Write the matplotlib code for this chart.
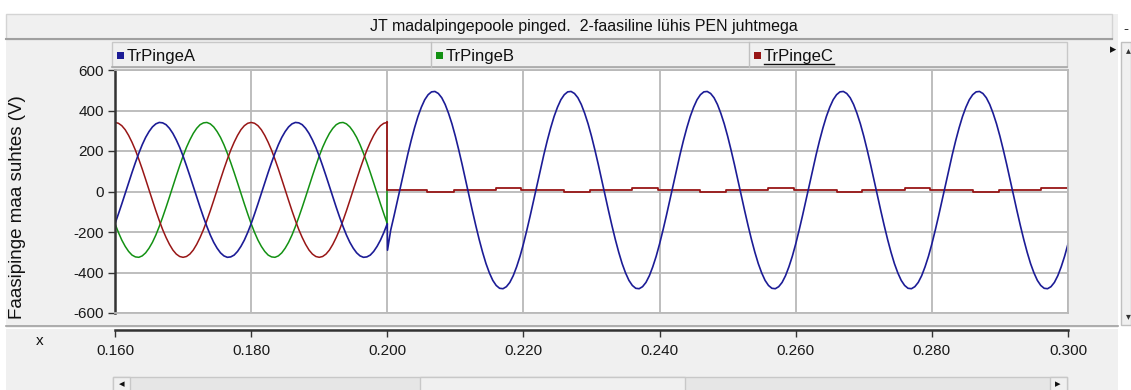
import numpy as np
import matplotlib
matplotlib.use('Agg')
import matplotlib.pyplot as plt
from matplotlib.patches import Rectangle

plt.rcParams['font.family'] = ['Liberation Sans', 'DejaVu Sans']
plt.rcParams['axes.unicode_minus'] = False

# --- data (V), 0.5 ms samples before the fault ---
t_pre = np.linspace(0.160, 0.200, 81)

blue_pre = [-159, -111, -61, -9, 43, 94, 143, 189, 231, 267, 296, 319, 334, 341, 339, 330, 312, 287, 255, 218,
            175, 127, 77, 25, -27, -78, -127, -173, -215, -251, -280, -303, -318, -325, -323, -314, -296, -271, -240, -202,
            -159, -111, -61, -9, 43, 94, 143, 189, 231, 267, 296, 319, 334, 341, 339, 330, 312, 287, 255, 218,
            175, 127, 77, 25, -27, -78, -127, -173, -215, -251, -280, -303, -318, -325, -323, -314, -296, -271, -240, -202,
            -159]

green_pre = [-159, -202, -240, -271, -296, -314, -323, -325, -318, -303, -280, -251, -215, -173, -127, -78, -27, 25, 77, 127,
             175, 218, 255, 287, 312, 330, 339, 341, 334, 319, 296, 267, 231, 189, 143, 94, 43, -9, -61, -111,
             -159, -202, -240, -271, -296, -314, -323, -325, -318, -303, -280, -251, -215, -173, -127, -78, -27, 25, 77, 127,
             175, 218, 255, 287, 312, 330, 339, 341, 334, 319, 296, 267, 231, 189, 143, 94, 43, -9, -61, -111,
             -159]

red_pre = [341, 337, 325, 305, 277, 243, 204, 159, 111, 60, 8, -44, -95, -143, -188, -227, -261, -289, -309, -321,
           -325, -321, -309, -289, -261, -227, -188, -143, -95, -44, 8, 60, 111, 159, 204, 243, 277, 305, 325, 337,
           341, 337, 325, 305, 277, 243, 204, 159, 111, 60, 8, -44, -95, -143, -188, -227, -261, -289, -309, -321,
           -325, -321, -309, -289, -261, -227, -188, -143, -95, -44, 8, 60, 111, 159, 204, 243, 277, 305, 325, 337,
           341]

# fault spike on phase A
spike_t = [0.20003]
spike_v = [-290]

# phase A after the fault, 0.2005 .. 0.3000 every 0.5 ms
t_post = np.linspace(0.2005, 0.300, 200)
blue_post = [-191, -119, -44, 33, 108, 182, 251, 314, 370, 416, 453, 478, 492, 494, 484, 463, 430, 386, 334, 273,
             205, 133, 58, -19, -95, -168, -237, -300, -356, -402, -439, -464, -478, -480, -470, -449, -416, -372, -320,
             -259, -191, -119, -44, 33, 108, 182, 251, 314, 370, 416, 453, 478, 492, 494, 484, 463, 430, 386, 334, 273,
             205, 133, 58, -19, -95, -168, -237, -300, -356, -402, -439, -464, -478, -480, -470, -449, -416, -372, -320,
             -259, -191, -119, -44, 33, 108, 182, 251, 314, 370, 416, 453, 478, 492, 494, 484, 463, 430, 386, 334, 273,
             205, 133, 58, -19, -95, -168, -237, -300, -356, -402, -439, -464, -478, -480, -470, -449, -416, -372, -320,
             -259, -191, -119, -44, 33, 108, 182, 251, 314, 370, 416, 453, 478, 492, 494, 484, 463, 430, 386, 334, 273,
             205, 133, 58, -19, -95, -168, -237, -300, -356, -402, -439, -464, -478, -480, -470, -449, -416, -372, -320,
             -259, -191, -119, -44, 33, 108, 182, 251, 314, 370, 416, 453, 478, 492, 494, 484, 463, 430, 386, 334, 273,
             205, 133, 58, -19, -95, -168, -237, -300, -356, -402, -439, -464, -478, -480, -470, -449, -416, -372, -320,
             -259]

# phase B jumps to ~0 at the fault (then hidden under phase C)
green_jump_t = [0.2000]
green_jump_v = [7]
# phase C after the fault (stepwise, near zero)
red_step_t = [0.2000, 0.2059, 0.2098, 0.2160, 0.2197, 0.2260, 0.2298, 0.2360, 0.2397, 0.2460, 0.2498,
              0.2560, 0.2597, 0.2660, 0.2698, 0.2760, 0.2798, 0.2860, 0.2898, 0.2960, 0.3000]
red_step_v = [7, -1, 7, 18, 7, -1, 7, 18, 7, -1, 7, 18, 7, -1, 7, 18, 7, -1, 7, 18, 18]

names = ['TrPingeA', 'TrPingeB', 'TrPingeC']
colors = ['#1c1c96', '#139113', '#981616']
x_ticks = [0.160, 0.180, 0.200, 0.220, 0.240, 0.260, 0.280, 0.300]
y_ticks = [-600, -400, -200, 0, 200, 400, 600]
title = 'JT madalpingepoole pinged.  2-faasiline lühis PEN juhtmega'
ylabel = 'Faasipinge maa suhtes (V)'

W, H = 1131, 390
def fr(x0, y0, x1, y1):
    return [x0 / W, 1 - y1 / H, (x1 - x0) / W, (y1 - y0) / H]

fig = plt.figure(figsize=(W / 100, H / 100), dpi=100)

# window chrome in pixel coordinates
bg = fig.add_axes([0, 0, 1, 1])
bg.set_xlim(0, W)
bg.set_ylim(H, 0)
bg.axis('off')
bg.add_patch(Rectangle((0, 0), W, H, facecolor='white', edgecolor='none'))
bg.add_patch(Rectangle((6, 14), 1112, H - 14, facecolor='#f0f0f0', edgecolor='none'))
# title bar
bg.add_patch(Rectangle((6, 14), 1106, 25, facecolor='#f0f0f0', edgecolor='#d4d4d4', lw=1))
bg.plot([6, 1112], [39, 39], color='#a0a0a0', lw=1.5)
bg.text(584, 26, title, ha='center', va='center', fontsize=11.5, color='#111111')
bg.text(1126, 29, '-', ha='center', va='center', fontsize=11, color='#333333')
# legend bar
bg.add_patch(Rectangle((112, 42), 955, 25, facecolor='#f0f0f0', edgecolor='#c8c8c8', lw=1))
bg.plot([112, 1067], [67, 67], color='#a8a8a8', lw=1.2)
for xd in [431, 749]:
    bg.plot([xd, xd], [42, 67], color='#c0c0c0', lw=1)
for xs, name, c in zip([117, 436, 754], names, colors):
    bg.add_patch(Rectangle((xs, 52), 7, 7, facecolor=c, edgecolor='none'))
    bg.text(xs + 10, 56, name, ha='left', va='center', fontsize=12, color='#111111')
bg.plot([764, 834], [64, 64], color='#111111', lw=1)
bg.text(1113, 50, '\u25b8', family='DejaVu Sans', ha='center', va='center', fontsize=9, color='#111111')
# right scrollbar
bg.add_patch(Rectangle((1121, 42), 10, 283, facecolor='#f0f0f0', edgecolor='#c0c0c0', lw=1))
bg.text(1128, 50, '\u25b4', family='DejaVu Sans', ha='center', va='center', fontsize=7, color='#333333')
bg.text(1128, 316, '\u25be', family='DejaVu Sans', ha='center', va='center', fontsize=7, color='#333333')
# separator under the plot
bg.plot([6, 1118], [326, 326], color='#a0a0a0', lw=1.2)
bg.plot([6, 1118], [327.5, 327.5], color='white', lw=0.8)
# bottom scrollbar
bg.add_patch(Rectangle((113, 377), 954, 14, facecolor='#e6e6e6', edgecolor='#c8c8c8', lw=1))
bg.add_patch(Rectangle((420, 377), 265, 14, facecolor='#f0f0f0', edgecolor='#c8c8c8', lw=1))
bg.add_patch(Rectangle((113, 377), 17, 14, facecolor='#f0f0f0', edgecolor='#c8c8c8', lw=1))
bg.add_patch(Rectangle((1050, 377), 17, 14, facecolor='#f0f0f0', edgecolor='#c8c8c8', lw=1))
bg.text(122, 384, '\u25c2', family='DejaVu Sans', ha='center', va='center', fontsize=8, color='#111111')
bg.text(1058, 384, '\u25b8', family='DejaVu Sans', ha='center', va='center', fontsize=8, color='#111111')
# axis names
bg.text(18, 207, ylabel, rotation=90, ha='center', va='center', fontsize=13.5, color='#111111')
bg.text(40, 341, 'x', ha='center', va='center', fontsize=11, color='#111111')

# main plot
ax = fig.add_axes(fr(115, 70, 1068, 313))
ax.set_facecolor('white')
ax.plot(t_pre, green_pre, color=colors[1], lw=1.1)
ax.plot([0.200] + green_jump_t, [green_pre[-1]] + green_jump_v, color=colors[1], lw=1.1)
ax.plot(t_pre, red_pre, color=colors[2], lw=1.1)
ax.step([0.200] + red_step_t, [red_pre[-1]] + red_step_v, where='post', color=colors[2], lw=1.3)
ax.plot(np.concatenate([t_pre, spike_t, t_post]), blue_pre + spike_v + blue_post, color=colors[0], lw=1.2)

ax.set_xlim(0.160, 0.300)
ax.set_ylim(-600, 600)
ax.set_xticks(x_ticks)
ax.set_yticks(y_ticks)
ax.tick_params(axis='x', length=0, labelbottom=False)
ax.tick_params(axis='y', length=5, width=1, color='#333333', labelsize=11, pad=3, labelcolor='#1a1a1a')
ax.grid(color='#b9b9b9', lw=1.3)
ax.set_axisbelow(True)
for s in ['top', 'right', 'bottom']:
    ax.spines[s].set_color('#b9b9b9')
    ax.spines[s].set_linewidth(1.3)
ax.spines['left'].set_color('#333333')
ax.spines['left'].set_linewidth(1.8)

# separate x axis strip
ax2 = fig.add_axes(fr(115, 329, 1068, 330))
ax2.patch.set_visible(False)
ax2.set_xlim(0.160, 0.300)
ax2.set_yticks([])
ax2.set_xticks(x_ticks)
ax2.set_xticklabels(['%.3f' % v for v in x_ticks])
for s in ['top', 'right', 'left']:
    ax2.spines[s].set_visible(False)
ax2.spines['bottom'].set_color('#333333')
ax2.spines['bottom'].set_linewidth(1.8)
ax2.tick_params(axis='x', direction='out', length=5, width=1, color='#333333', labelsize=11, pad=5, labelcolor='#1a1a1a')

fig.savefig('out.png', dpi=100)
